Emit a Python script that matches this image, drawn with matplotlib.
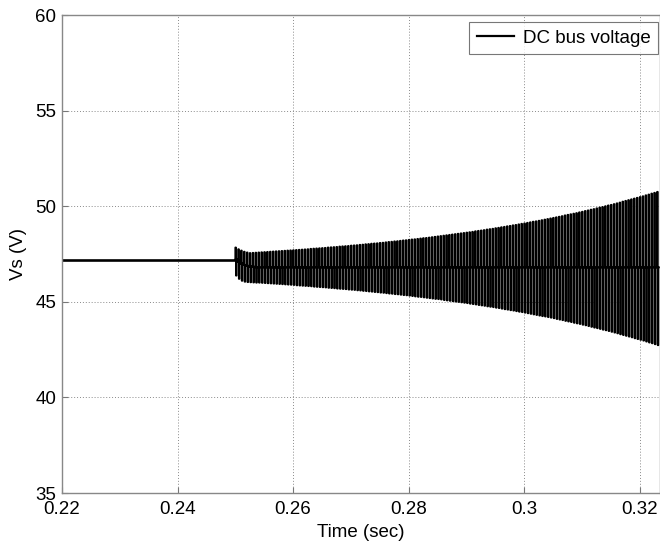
import numpy as np
import matplotlib
matplotlib.use("Agg")
import matplotlib.pyplot as plt

plt.rcParams["font.family"] = ["Liberation Sans", "DejaVu Sans"]

# Operating point before the disturbance
t_start = 0.22
t_onset = 0.25
v_steady = 47.2
v_mid = 46.8
period = 0.0005  # switching ripple period (s)

# Mid level during the first cycles after the onset
mid_settle = [47.2, 47.1, 47.0, 46.93, 46.88, 46.85, 46.83, 46.81]

# Peak voltage of each ripple cycle
upper_peaks = [
    47.84, 47.75, 47.68, 47.62, 47.58, 47.55, 47.56, 47.57, 47.58, 47.59, 47.60,
    47.61, 47.62, 47.63, 47.64, 47.65, 47.66, 47.67, 47.68, 47.69, 47.70,
    47.71, 47.72, 47.73, 47.74, 47.75, 47.77, 47.78, 47.79, 47.80, 47.81,
    47.82, 47.84, 47.85, 47.86, 47.87, 47.89, 47.90, 47.91, 47.92, 47.94,
    47.95, 47.96, 47.98, 47.99, 48.01, 48.02, 48.04, 48.05, 48.06, 48.08,
    48.09, 48.11, 48.13, 48.14, 48.16, 48.17, 48.19, 48.21, 48.22, 48.24,
    48.26, 48.27, 48.29, 48.31, 48.33, 48.34, 48.36, 48.38, 48.40, 48.42,
    48.44, 48.46, 48.48, 48.50, 48.52, 48.54, 48.56, 48.58, 48.60, 48.62,
    48.64, 48.66, 48.69, 48.71, 48.73, 48.75, 48.78, 48.80, 48.82, 48.85,
    48.87, 48.90, 48.92, 48.95, 48.97, 49.00, 49.02, 49.05, 49.08, 49.10,
    49.13, 49.16, 49.19, 49.21, 49.24, 49.27, 49.30, 49.33, 49.36, 49.39,
    49.42, 49.45, 49.48, 49.52, 49.55, 49.58, 49.61, 49.64, 49.68, 49.71,
    49.75, 49.78, 49.82, 49.85, 49.89, 49.93, 49.96, 50.00, 50.04, 50.07,
    50.11, 50.15, 50.19, 50.24, 50.28, 50.32, 50.36, 50.40, 50.44, 50.48,
    50.52, 50.57, 50.61, 50.66, 50.70, 50.75,
]

# Valley voltage of each ripple cycle
lower_peaks = [
    46.37, 46.20, 46.10, 46.05, 46.03, 46.02, 46.01, 46.00, 46.00, 45.99, 45.98,
    45.97, 45.96, 45.95, 45.94, 45.93, 45.92, 45.91, 45.90, 45.89, 45.88,
    45.86, 45.85, 45.84, 45.83, 45.82, 45.81, 45.79, 45.78, 45.77, 45.76,
    45.75, 45.73, 45.72, 45.71, 45.69, 45.68, 45.67, 45.66, 45.64, 45.63,
    45.62, 45.60, 45.59, 45.57, 45.56, 45.54, 45.53, 45.51, 45.50, 45.48,
    45.47, 45.45, 45.43, 45.42, 45.40, 45.39, 45.37, 45.35, 45.34, 45.32,
    45.30, 45.28, 45.26, 45.25, 45.23, 45.21, 45.19, 45.17, 45.15, 45.14,
    45.12, 45.09, 45.07, 45.05, 45.03, 45.01, 44.99, 44.97, 44.95, 44.93,
    44.90, 44.88, 44.86, 44.83, 44.81, 44.79, 44.76, 44.74, 44.72, 44.69,
    44.67, 44.64, 44.61, 44.59, 44.56, 44.54, 44.51, 44.48, 44.46, 44.43,
    44.40, 44.37, 44.34, 44.31, 44.28, 44.25, 44.23, 44.20, 44.17, 44.14,
    44.10, 44.07, 44.04, 44.00, 43.97, 43.94, 43.90, 43.87, 43.84, 43.80,
    43.77, 43.73, 43.69, 43.65, 43.62, 43.58, 43.54, 43.51, 43.47, 43.43,
    43.39, 43.35, 43.30, 43.26, 43.22, 43.18, 43.14, 43.09, 43.05, 43.01,
    42.97, 42.92, 42.87, 42.83, 42.78, 42.73,
]

x_ticks = [0.22, 0.24, 0.26, 0.28, 0.30, 0.32]
x_tick_labels = ["0.22", "0.24", "0.26", "0.28", "0.3", "0.32"]
y_ticks = [35, 40, 45, 50, 55, 60]

# Flat section before the disturbance
t_flat = [t_start, t_onset]
v_flat = [v_steady, v_steady]

# Ripple section: one up/down excursion per cycle around the mid level
t_rip = []
v_rip = []
for k, (hi, lo) in enumerate(zip(upper_peaks, lower_peaks)):
    t0 = t_onset + k * period
    mid = mid_settle[k] if k < len(mid_settle) else v_mid
    t_rip += [t0, t0, t0 + 0.22 * period, t0 + 0.22 * period,
              t0 + 0.44 * period, t0 + 0.44 * period, t0 + period]
    v_rip += [mid, hi, hi, lo, lo, mid, mid]

# Mid level trace that runs through the ripple bars
mid_t = [t_onset + k * period for k in range(len(upper_peaks))]
mid_v = [mid_settle[k] if k < len(mid_settle) else v_mid
         for k in range(len(upper_peaks))]

FS = 13.5

fig = plt.figure(figsize=(6.6, 5.43), dpi=100)
ax = fig.add_axes([62 / 660, 50 / 543, 598 / 660, 478 / 543])

ax.plot(t_flat, v_flat, color="black", lw=1.9, label="DC bus voltage")
ax.plot(t_rip, v_rip, color="black", lw=1.35)
ax.plot(mid_t, mid_v, color="black", lw=1.6)

ax.set_xlim(0.22, 0.3235)
ax.set_ylim(35, 60)
ax.set_xticks(x_ticks)
ax.set_xticklabels(x_tick_labels)
ax.set_yticks(y_ticks)
ax.grid(True, color="#8a8a8a", linestyle=(0, (1, 2)), linewidth=0.7)
ax.tick_params(axis="both", direction="in", length=4, color="#777777",
               labelsize=FS, top=False, right=False)
ax.tick_params(axis="x", pad=6)
ax.tick_params(axis="y", pad=4)
for s in ax.spines.values():
    s.set_color("#888888")
    s.set_linewidth(1.0)

ax.set_xlabel("Time (sec)", fontsize=FS, labelpad=4)
ax.set_ylabel("Vs (V)", fontsize=FS, labelpad=6)

leg = ax.legend(loc="upper right", bbox_to_anchor=(658 / 660, 1 - 22 / 543),
                bbox_transform=fig.transFigure, fontsize=FS, frameon=True,
                fancybox=False, handlelength=2.0, borderpad=0.4,
                borderaxespad=0.0, handletextpad=0.45)
leg.get_frame().set_edgecolor("#555555")
leg.get_frame().set_linewidth(0.8)
for line in leg.get_lines():
    line.set_linewidth(1.6)

fig.savefig("out.png", dpi=100)
